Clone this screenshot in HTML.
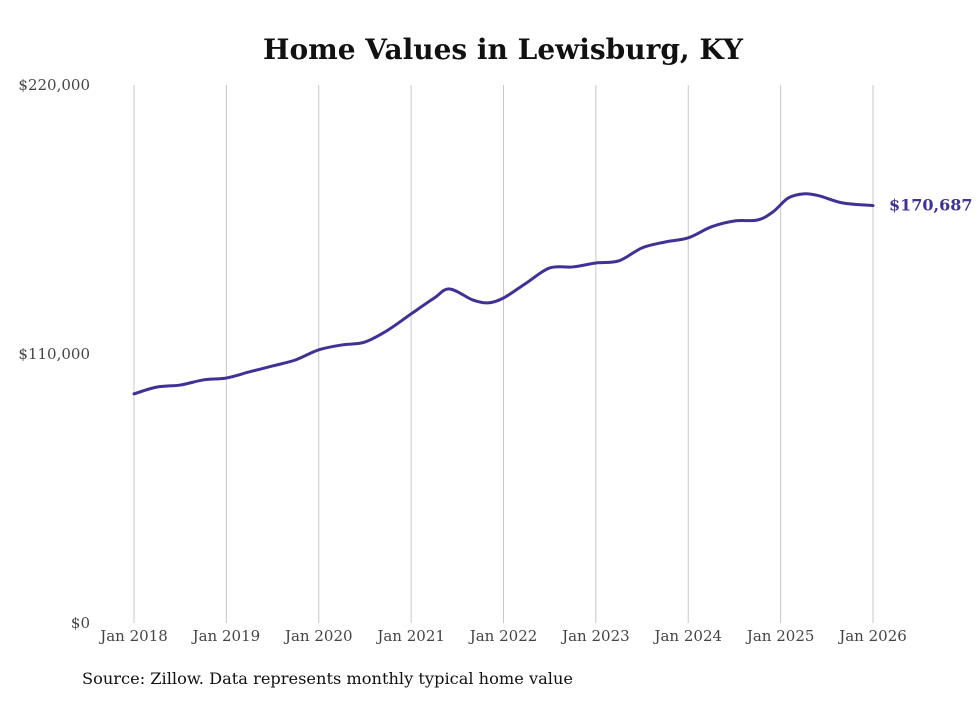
<!DOCTYPE html>
<html><head><meta charset="utf-8"><style>
body{margin:0;background:#fff;}
svg text{font-family:"DejaVu Serif","Liberation Serif",serif;}
</style></head><body>
<svg id="chart" width="980" height="699" xmlns="http://www.w3.org/2000/svg">
<rect width="980" height="699" fill="#fff"/>
<text x="503" y="59" text-anchor="middle" font-size="28" font-weight="bold" fill="#111">Home Values in Lewisburg, KY</text>
<g id="grid"></g><g id="yticks"></g><g id="xticks"></g>
<path id="line" fill="none" stroke="#3f3294" stroke-width="3" stroke-linejoin="round" stroke-linecap="round"/>
<text id="endlabel" font-size="16" font-weight="bold" fill="#3f3294"></text>
<text x="82" y="684" font-size="16" fill="#111" textLength="491" lengthAdjust="spacingAndGlyphs">Source: Zillow. Data represents monthly typical home value</text>
</svg>
<script>
const months=[0,3,6,9,12,15,18,21,24,27,30,33,36,39,41,44,46,48,51,54,57,60,63,66,69,72,75,78,81,83,85,87,89,92,96];
const values=[93700,96500,97300,99400,100200,102700,105100,107600,111700,113700,114900,119800,126400,132900,136600,132100,130900,132900,139100,145200,145600,147200,148100,153400,155800,157500,162000,164400,164800,168100,173800,175500,174700,171800,170687];
const xLabels=["Jan 2018","Jan 2019","Jan 2020","Jan 2021","Jan 2022","Jan 2023","Jan 2024","Jan 2025","Jan 2026"];
const yTicks=[0,110000,220000];
const yTickLabels=["$0","$110,000","$220,000"];
const NS="http://www.w3.org/2000/svg";
const x=m=>134+m*(873-134)/96;
const y=v=>623-v*(623-85)/220000;
function mk(t,a,p){const e=document.createElementNS(NS,t);for(const k in a)e.setAttribute(k,a[k]);p.appendChild(e);return e;}
const grid=document.getElementById('grid'),xt=document.getElementById('xticks'),yt=document.getElementById('yticks');
xLabels.forEach((l,i)=>{
 const gx=x(i*12);
 const g=mk('line',{x1:gx,x2:gx,y1:85,y2:623,stroke:'#c8c8c8','stroke-width':1},grid);
 
 
 const t=mk('text',{x:gx,y:641,'text-anchor':'middle','font-size':15,fill:'#444'},xt);
 t.textContent=l;
 
 
});
yTicks.forEach((v,i)=>{
 const t=mk('text',{x:90,y:y(v)+5,'text-anchor':'end','font-size':15,fill:'#444'},yt);
 t.textContent=yTickLabels[i];
 
 
});
const pts=months.map((m,i)=>[x(m),y(values[i])]);
let d='M'+pts[0][0]+','+pts[0][1];
for(let i=0;i<pts.length-1;i++){
 const p0=pts[Math.max(0,i-1)],p1=pts[i],p2=pts[i+1],p3=pts[Math.min(pts.length-1,i+2)];
 const c1=[p1[0]+(p2[0]-p0[0])/6,p1[1]+(p2[1]-p0[1])/6],c2=[p2[0]-(p3[0]-p1[0])/6,p2[1]-(p3[1]-p1[1])/6];
 d+=` C${c1[0]},${c1[1]} ${c2[0]},${c2[1]} ${p2[0]},${p2[1]}`;
}
document.getElementById('line').setAttribute('d',d);
const el=document.getElementById('endlabel');
const last=pts[pts.length-1];
el.setAttribute('x',last[0]+16);el.setAttribute('y',last[1]+5);
el.textContent='$'+values[values.length-1].toLocaleString('en-US');
</script>
</body></html>
